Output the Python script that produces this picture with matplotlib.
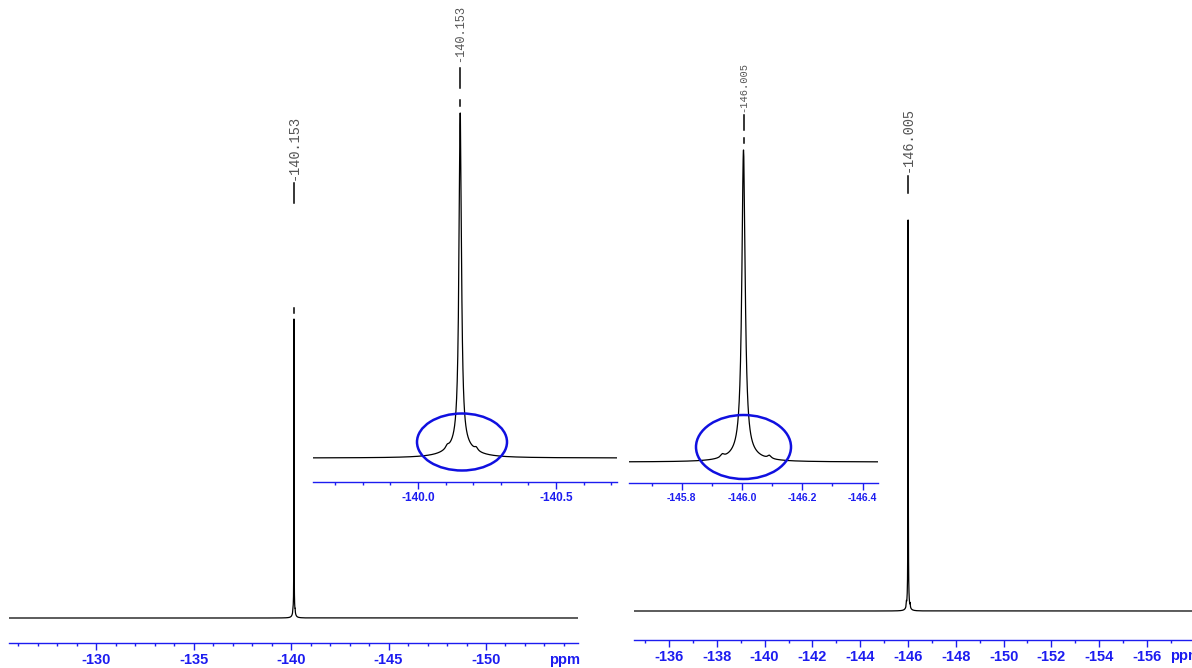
import matplotlib
matplotlib.use("Agg")
import matplotlib.pyplot as plt
import numpy as np
from matplotlib.patches import Ellipse
from matplotlib.ticker import MultipleLocator
from matplotlib.transforms import blended_transform_factory

plt.rcParams["axes.unicode_minus"] = False
plt.rcParams["font.family"] = ["Liberation Sans", "DejaVu Sans"]

# ── data ────────────────────────────────────
shift_1 = -140.153
shift_2 = -146.005
label_1 = "-140.153"
label_2 = "-146.005"

# lineshape of each signal (ppm, height relative to main peak)
main_hw = [0.0054, 0.0066]
foot_hw = [0.054, 0.050]
foot_h = [0.035, 0.026]
sat_1 = [-140.106, -140.211]
sat_2 = [-145.935, -146.091]
sat_h = [0.009, 0.010]
sat_hw = [0.007, 0.007]

ticks_big_1 = [-130, -135, -140, -145, -150]
ticks_zoom_1 = [-140.0, -140.5]
ticks_zoom_2 = [-145.8, -146.0, -146.2, -146.4]
ticks_big_2 = [-136, -138, -140, -142, -144, -146, -148, -150, -152, -154, -156]

BLUE = "#1c1cf0"
W, H = 1192, 668

fig = plt.figure(figsize=(W / 100, H / 100), dpi=100)
fig.patch.set_facecolor("white")

overlay = fig.add_axes([0, 0, 1, 1], zorder=10)
overlay.set_xlim(0, W)
overlay.set_ylim(H, 0)
overlay.axis("off")


def px_axes(x0, x1, ytop, ybot):
    return fig.add_axes([x0 / W, 1 - ybot / H, (x1 - x0) / W, (ybot - ytop) / H])


def lorentz(x, c, hw, h):
    return h * hw ** 2 / ((x - c) ** 2 + hw ** 2)


def spectrum(x, k):
    c = [shift_1, shift_2][k]
    sats = [sat_1, sat_2][k]
    y = lorentz(x, c, main_hw[k], 1.0) + lorentz(x, c, foot_hw[k], foot_h[k])
    for s in sats:
        y += lorentz(x, s, sat_hw[k], sat_h[k])
    return y / y.max()


def panel(k, x0, x1, y_base, y_top, y_rule, ref_px, ref_ppm, ppx,
          ticks, fmt, minor, fs):
    lo = ref_ppm + (ref_px - x0) / ppx
    hi = ref_ppm - (x1 - ref_px) / ppx
    c = [shift_1, shift_2][k]

    # spectrum trace
    ax = px_axes(x0, x1, y_top - 6, y_base + 6)
    x = np.sort(np.append(np.linspace(hi, lo, 60000), c))
    y = spectrum(x, k)
    ax.plot(x, y, color="black", lw=0.9)
    span = y_base - y_top
    ax.set_xlim(lo, hi)
    ax.set_ylim(-6 / span, 1 + 6 / span)
    ax.axis("off")

    # ppm ruler
    r = px_axes(x0, x1, y_rule - 10, y_rule)
    r.set_facecolor("none")
    for s in ["top", "left", "right"]:
        r.spines[s].set_visible(False)
    r.spines["bottom"].set_color(BLUE)
    r.spines["bottom"].set_linewidth(1.0)
    r.set_yticks([])
    r.set_xlim(lo, hi)
    r.set_xticks(ticks)
    r.set_xticklabels([fmt % t for t in ticks], fontweight="bold")
    r.xaxis.set_minor_locator(MultipleLocator(minor))
    r.tick_params(axis="x", which="major", direction="out", length=5,
                  width=1, color=BLUE, labelcolor=BLUE, labelsize=fs, pad=2.5)
    r.tick_params(axis="x", which="minor", direction="out", length=2.2,
                  width=1, color=BLUE)
    return ax


def peak_label(ax, shift, text, fs, y_text, y_line, y_dash=None):
    tr = blended_transform_factory(ax.transData, overlay.transData)
    overlay.plot([shift, shift], y_line, transform=tr, color="black", lw=1.1)
    if y_dash is not None:
        overlay.plot([shift, shift], y_dash, transform=tr, color="black", lw=1.1)
    overlay.text(shift, y_text, text, transform=tr, rotation=90, ha="center",
                 va="bottom", family="Liberation Mono", fontsize=fs, color="#555555")


# left full spectrum
ax1 = panel(0, 9, 578, 618, 319, 643, 291, -140.0, 19.5,
            ticks_big_1, "%d", 1, 10.5)
# zoom of -140.153
ax2 = panel(0, 313, 617, 458, 113, 482, 418, -140.0, 276.0,
            ticks_zoom_1, "%.1f", 0.1, 8.5)
# zoom of -146.005
ax3 = panel(1, 629, 878, 462, 150, 483, 742, -146.0, 301.5,
            ticks_zoom_2, "%.1f", 0.1, 7.5)
# right full spectrum
ax4 = panel(1, 634, 1192, 611, 220, 640, 908, -146.0, 23.9,
            ticks_big_2, "%d", 1, 10.5)

# unit labels at the right end of the full rulers
overlay.text(565, 660, "ppm", ha="center", va="center", fontsize=10.5,
             fontweight="bold", color=BLUE)
overlay.text(1186, 656, "ppm", ha="center", va="center", fontsize=10.5,
             fontweight="bold", color=BLUE)

peak_label(ax1, shift_1, label_1, 9.8, 180, [183, 203], [308, 313])
peak_label(ax2, shift_1, label_1, 8.6, 62, [68, 88], [100, 106])
peak_label(ax3, shift_2, label_2, 7.5, 112, [115, 130], [138, 143])
peak_label(ax4, shift_2, label_2, 9.8, 172, [176, 193])

# blue circles around the satellite signals
overlay.add_patch(Ellipse((462, 442), 90, 57, fill=False, ec="#1010e0", lw=1.8))
overlay.add_patch(Ellipse((743.5, 447), 95, 64, fill=False, ec="#1010e0", lw=1.8))

fig.savefig("out.png", dpi=100, facecolor="white")
